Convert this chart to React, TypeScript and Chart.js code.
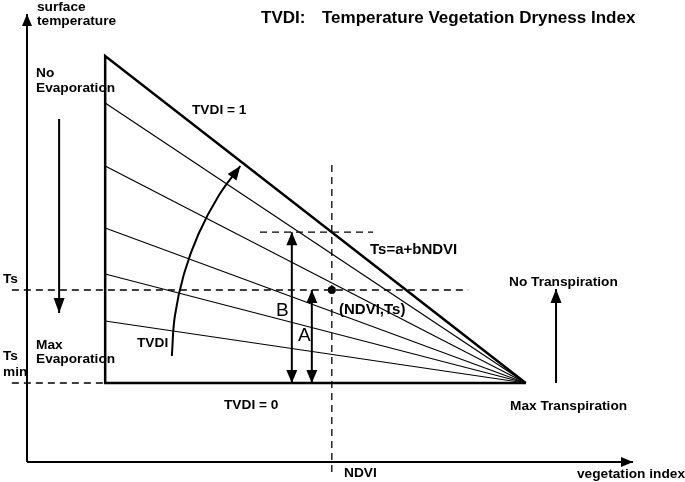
import { useEffect, useRef } from 'react';
import { Chart, registerables } from 'chart.js';

Chart.register(...registerables);

// ---- Diagram values (NDVI on x, surface temperature Ts on y) ----
const NDVI_MIN = 0.129;          // bare-soil edge of the triangle
const NDVI_MAX = 0.823;          // full-vegetation apex
const TS_MAX = 40.6;             // dry edge top (TVDI = 1) at NDVI_MIN
const TS_MIN = 7.9;              // wet edge (TVDI = 0)
const ISOLINE_TS = [35.9, 29.6, 23.4, 18.8, 14.1]; // TVDI isolines, Ts at NDVI_MIN
const OBS_NDVI = 0.503;          // observed pixel NDVI
const OBS_TS = 17.2;             // observed pixel Ts
const CURVE_NDVI = [0.239, 0.244, 0.259, 0.283, 0.316, 0.352];
const CURVE_TS = [10.6, 14.6, 18.8, 22.8, 26.6, 29.6];
const B_NDVI = 0.437;
const A_NDVI = 0.470;
const AXIS_NDVI_END = 1.0;
const AXIS_TS_END = 44.8;
const GUIDE_LEFT = -0.025;
const TS_GUIDE_RIGHT = 0.728;
const DRY_GUIDE = [0.3845, 0.571];
const NDVI_GUIDE_TS = [29.7, -1.5];
const EVAP_ARROW = { ndvi: 0.053, from: 34.3, to: 14.9 };
const TRANSP_ARROW = { ndvi: 0.873, from: 7.9, to: 17.3 };

const dryTs = (n: number) => TS_MAX + (TS_MIN - TS_MAX) * (n - NDVI_MIN) / (NDVI_MAX - NDVI_MIN);
const DRY_AT_OBS = dryTs(OBS_NDVI);

const FONT = '"Liberation Sans", Arial, Helvetica, sans-serif';
const LABELS: { t: string; x: number; y: number; f: string }[] = [
  { t: 'surface', x: 37, y: 7, f: 'bold 13.7px' },
  { t: 'temperature', x: 37, y: 21, f: 'bold 13.7px' },
  { t: 'TVDI:', x: 261, y: 18, f: 'bold 17px' },
  { t: 'Temperature Vegetation Dryness Index', x: 322, y: 18, f: 'bold 17px' },
  { t: 'No', x: 36, y: 73, f: 'bold 13.7px' },
  { t: 'Evaporation', x: 36, y: 88, f: 'bold 13.7px' },
  { t: 'TVDI = 1', x: 192, y: 110, f: 'bold 13.7px' },
  { t: 'Ts', x: 3, y: 279, f: 'bold 13.7px' },
  { t: 'Max', x: 36, y: 345, f: 'bold 13.7px' },
  { t: 'Evaporation', x: 36, y: 359, f: 'bold 13.7px' },
  { t: 'Ts', x: 3, y: 356, f: 'bold 13.7px' },
  { t: 'min', x: 3, y: 372, f: 'bold 13.7px' },
  { t: 'TVDI', x: 137, y: 343, f: 'bold 13.7px' },
  { t: 'TVDI = 0', x: 224, y: 405, f: 'bold 13.7px' },
  { t: 'Ts=a+bNDVI', x: 370, y: 250, f: 'bold 15px' },
  { t: '(NDVI,Ts)', x: 339, y: 310, f: 'bold 15px' },
  { t: 'B', x: 276, y: 311, f: '19px' },
  { t: 'A', x: 298, y: 336, f: '19px' },
  { t: 'No Transpiration', x: 509, y: 282, f: 'bold 13.7px' },
  { t: 'Max Transpiration', x: 510, y: 406, f: 'bold 13.7px' },
  { t: 'vegetation index', x: 577, y: 474, f: 'bold 13.7px' },
  { t: 'NDVI', x: 344, y: 473, f: 'bold 13.7px' },
];

const seg = (pts: { x: number; y: number }[], extra: any = {}) => ({
  data: pts,
  showLine: true,
  borderColor: '#000',
  backgroundColor: '#000',
  borderWidth: 1.3,
  pointRadius: 0,
  tension: 0,
  borderCapStyle: 'butt',
  ...extra,
});

const dash = [7, 5];

function drawHead(ctx: CanvasRenderingContext2D, tx: number, ty: number, fx: number, fy: number, len: number, w: number) {
  const dx = tx - fx, dy = ty - fy;
  const d = Math.hypot(dx, dy) || 1;
  const ux = dx / d, uy = dy / d;
  const bx = tx - ux * len, by = ty - uy * len;
  ctx.beginPath();
  ctx.moveTo(tx, ty);
  ctx.lineTo(bx - uy * w, by + ux * w);
  ctx.lineTo(bx + uy * w, by - ux * w);
  ctx.closePath();
  ctx.fill();
}

const arrowPlugin = {
  id: 'arrows',
  afterDatasetsDraw(chart: any) {
    const ctx = chart.ctx as CanvasRenderingContext2D;
    ctx.save();
    ctx.fillStyle = '#000';
    chart.data.datasets.forEach((ds: any, i: number) => {
      if (!ds.arrow) return;
      const pts = chart.getDatasetMeta(i).data;
      const len = ds.headLen || 14, w = ds.headW || 5;
      const n = pts.length;
      if (ds.arrow === 'end' || ds.arrow === 'both') {
        const p = pts[n - 1];
        const q = pts[n - 2];
        let qx = q.x, qy = q.y;
        if (ds.curved && p.cp1x !== undefined) { qx = p.cp1x; qy = p.cp1y; }
        drawHead(ctx, p.x, p.y, qx, qy, len, w);
      }
      if (ds.arrow === 'both') {
        drawHead(ctx, pts[0].x, pts[0].y, pts[1].x, pts[1].y, len, w);
      }
    });
    ctx.restore();
  },
  afterDraw(chart: any) {
    const ctx = chart.ctx as CanvasRenderingContext2D;
    ctx.save();
    ctx.fillStyle = '#000';
    ctx.textBaseline = 'middle';
    ctx.textAlign = 'left';
    LABELS.forEach((l) => {
      ctx.font = `${l.f} ${FONT}`;
      ctx.fillText(l.t, l.x, l.y);
    });
    ctx.restore();
  },
};

export default function App() {
  const ref = useRef<HTMLCanvasElement | null>(null);
  useEffect(() => {
    if (!ref.current) return;
    const datasets: any[] = [];
    // axes
    datasets.push(seg([{ x: 0, y: 0 }, { x: 0, y: AXIS_TS_END }], { borderWidth: 2, arrow: 'end', headLen: 12, headW: 5 }));
    datasets.push(seg([{ x: 0, y: 0 }, { x: AXIS_NDVI_END, y: 0 }], { borderWidth: 2, arrow: 'end', headLen: 12, headW: 5 }));
    // dashed guides
    datasets.push(seg([{ x: GUIDE_LEFT, y: OBS_TS }, { x: TS_GUIDE_RIGHT, y: OBS_TS }], { borderDash: dash }));
    datasets.push(seg([{ x: GUIDE_LEFT, y: TS_MIN }, { x: NDVI_MIN, y: TS_MIN }], { borderDash: dash }));
    datasets.push(seg([{ x: OBS_NDVI, y: NDVI_GUIDE_TS[0] }, { x: OBS_NDVI, y: NDVI_GUIDE_TS[1] }], { borderDash: dash }));
    datasets.push(seg([{ x: DRY_GUIDE[0], y: DRY_AT_OBS }, { x: DRY_GUIDE[1], y: DRY_AT_OBS }], { borderDash: dash }));
    // TVDI isolines
    ISOLINE_TS.forEach((ts) => {
      datasets.push(seg([{ x: NDVI_MIN, y: ts }, { x: NDVI_MAX, y: TS_MIN }], { borderWidth: 1.2 }));
    });
    // triangle
    datasets.push(seg([
      { x: NDVI_MAX, y: TS_MIN }, { x: NDVI_MIN, y: TS_MIN }, { x: NDVI_MIN, y: TS_MAX }, { x: NDVI_MAX, y: TS_MIN },
    ], { borderWidth: 2.5, borderJoinStyle: 'miter' }));
    // curved TVDI arrow
    datasets.push(seg(CURVE_NDVI.map((x, i) => ({ x, y: CURVE_TS[i] })), { borderWidth: 2, tension: 0.4, curved: true, arrow: 'end', headLen: 14, headW: 5.5 }));
    // B and A double arrows
    datasets.push(seg([{ x: B_NDVI, y: TS_MIN }, { x: B_NDVI, y: DRY_AT_OBS }], { borderWidth: 2, arrow: 'both', headLen: 13, headW: 5.5 }));
    datasets.push(seg([{ x: A_NDVI, y: TS_MIN }, { x: A_NDVI, y: OBS_TS }], { borderWidth: 2, arrow: 'both', headLen: 13, headW: 5.5 }));
    // side arrows
    datasets.push(seg([{ x: EVAP_ARROW.ndvi, y: EVAP_ARROW.from }, { x: EVAP_ARROW.ndvi, y: EVAP_ARROW.to }], { borderWidth: 2, arrow: 'end', headLen: 15, headW: 5.5 }));
    datasets.push(seg([{ x: TRANSP_ARROW.ndvi, y: TRANSP_ARROW.from }, { x: TRANSP_ARROW.ndvi, y: TRANSP_ARROW.to }], { borderWidth: 2, arrow: 'end', headLen: 14, headW: 5.5 }));
    // observation point
    datasets.push({ data: [{ x: OBS_NDVI, y: OBS_TS }], showLine: false, pointRadius: 4, pointBackgroundColor: '#000', pointBorderColor: '#000', pointBorderWidth: 0 });

    const chart = new Chart(ref.current, {
      type: 'scatter',
      data: { datasets },
      plugins: [arrowPlugin],
      options: {
        animation: false,
        responsive: false,
        devicePixelRatio: 1,
        layout: { padding: 0, autoPadding: false },
        plugins: { legend: { display: false }, tooltip: { enabled: false } },
        events: [],
        scales: {
          x: { type: 'linear', display: false, min: -27 / 606, max: 658 / 606 },
          y: { type: 'linear', display: false, min: -2, max: 46.2 },
        },
      } as any,
    });
    return () => chart.destroy();
  }, []);
  return (
    <div style={{ position: 'fixed', left: 0, top: 0, width: 685, height: 482, background: '#fff' }}>
      <canvas ref={ref} width={685} height={482} style={{ display: 'block' }} />
    </div>
  );
}
